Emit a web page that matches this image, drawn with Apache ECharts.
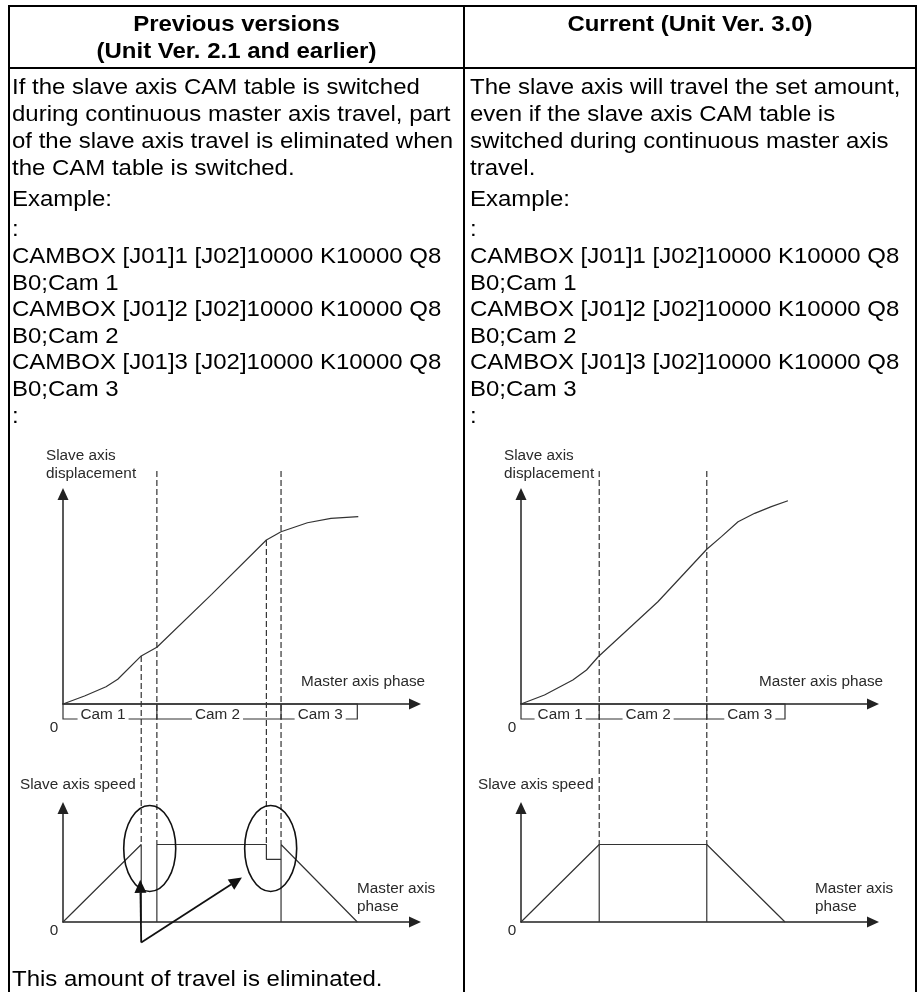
<!DOCTYPE html>
<html>
<head>
<meta charset="utf-8">
<title>CAM table switching</title>
<script src="https://cdn.jsdelivr.net/npm/echarts@6/dist/echarts.min.js"></script>
<style>
    html, body { margin: 0; padding: 0; background: #fff; }
    #main { width: 924px; height: 992px; }
</style>
</head>
<body>
<div id="main"></div>
<script>
// master axis phase (x, 0-360) and slave axis values (y, 0-100)
var leftDispX = [0, 22, 44, 56, 80, 96, 152, 208, 223, 250, 274, 302];
var leftDispY = [0, 3.8, 8.2, 11.8, 22.9, 27, 52.2, 78.1, 82, 86.3, 88.4, 89.2];
var rightDispX = [0, 24, 53, 67, 79, 140, 190, 205, 222, 239, 256, 273];
var rightDispY = [0, 4.3, 11.4, 16.2, 22.5, 48.7, 73.7, 79.7, 86.8, 90.8, 94, 96.8];

// speed profiles, one path per piece
var leftSpeedX = [[0, 80, 80], [96, 96, 208, 208, 223, 223, 301], [223, 223]];
var leftSpeedY = [[0, 68, 0], [0, 68, 68, 55, 55, 68, 0], [0, 55]];
var rightSpeedX = [[0, 80, 190, 270], [80, 80], [190, 190]];
var rightSpeedY = [[0, 68, 68, 0], [0, 68], [0, 68]];

// cam tables
var camNames = ['Cam 1', 'Cam 2', 'Cam 3'];
var leftCamEnds = [96, 223, 301];
var rightCamEnds = [80, 190, 270];
var leftCamLabelX = [41, 158, 263];
var rightCamLabelX = [40, 130, 234];

// dashed guide lines: x, top value in the displacement chart, bottom value in the speed chart
var leftGuideX = [80, 96, 208, 223];
var leftGuideTop = [22.9, 111, 78.1, 111];
var rightGuideX = [80, 190];
var rightGuideTop = [111, 111];
var guideBottom = 68;

// "eliminated" marks on the left speed chart
var ellipseX = [88.7, 212.4];
var ellipseY = [64.5, 64.5];
var ellipseR = [26.6, 37.7];
var arrowFrom = [80, -18];
var arrowTo = [[79, 37], [183, 39]];

var leftText = [
    'If the slave axis CAM table is switched',
    'during continuous master axis travel, part',
    'of the slave axis travel is eliminated when',
    'the CAM table is switched.'
];
var rightText = [
    'The slave axis will travel the set amount,',
    'even if the slave axis CAM table is',
    'switched during continuous master axis',
    'travel.'
];
var codeLines = [
    ':',
    'CAMBOX [J01]1 [J02]10000 K10000 Q8',
    'B0;Cam 1',
    'CAMBOX [J01]2 [J02]10000 K10000 Q8',
    'B0;Cam 2',
    'CAMBOX [J01]3 [J02]10000 K10000 Q8',
    'B0;Cam 3',
    ':'
];

var FONT = '"Liberation Sans", Arial, Helvetica, sans-serif';
var INK = '#2a2a2a';
var WIDE = 1.09; // the printed text is a little wider than Liberation Sans

var chart = echarts.init(document.getElementById('main'));

function axis(g, max) {
    return {
        type: 'value', gridIndex: g, min: 0, max: max,
        axisLine: {show: true, onZero: true, symbol: ['none', 'triangle'], symbolSize: [11, 12],
            lineStyle: {color: '#222', width: 1.5}},
        axisTick: {show: false},
        axisLabel: {show: false},
        splitLine: {show: false}
    };
}

function line(g, xs, ys) {
    return {
        type: 'line', xAxisIndex: g, yAxisIndex: g,
        data: xs.map(function (x, i) { return [x, ys[i]]; }),
        symbol: 'none', silent: true, clip: false,
        lineStyle: {color: '#333', width: 1.2}
    };
}

var series = [line(0, leftDispX, leftDispY), line(2, rightDispX, rightDispY)];
leftSpeedX.forEach(function (xs, i) { series.push(line(1, xs, leftSpeedY[i])); });
rightSpeedX.forEach(function (xs, i) { series.push(line(3, xs, rightSpeedY[i])); });

var option = {
    animation: false,
    grid: [
        {left: 63, top: 494, width: 352, height: 210},
        {left: 63, top: 808, width: 352, height: 114},
        {left: 521, top: 494, width: 352, height: 210},
        {left: 521, top: 808, width: 352, height: 114}
    ],
    xAxis: [axis(0, 360), axis(1, 360), axis(2, 360), axis(3, 360)],
    yAxis: [axis(0, 100), axis(1, 100), axis(2, 100), axis(3, 100)],
    series: series
};
chart.setOption(option);

function px(g, x, y) {
    return chart.convertToPixel({gridIndex: g}, [x, y]);
}

function text(x, y, str, size, extra) {
    var st = {text: str, fontSize: size, fontFamily: FONT, fill: '#000',
        align: 'left', verticalAlign: 'top', lineHeight: size + 3};
    for (var k in extra) st[k] = extra[k];
    return {type: 'text', x: x, y: y, z: 20, style: st};
}

function bigText(x, y, str, extra) {
    var t = text(x, y, str, 22, extra);
    t.scaleX = WIDE;
    return t;
}

function seg(a, b, style) {
    return {type: 'line', z: 10, shape: {x1: a[0], y1: a[1], x2: b[0], y2: b[1]}, style: style};
}

var els = [];

// table frame
els.push({type: 'rect', z: 30, shape: {x: 9, y: 6, width: 907, height: 1000},
    style: {fill: 'none', stroke: '#000', lineWidth: 2}});
els.push(seg([9, 68], [916, 68], {stroke: '#000', lineWidth: 2}));
els.push(seg([464, 6], [464, 1000], {stroke: '#000', lineWidth: 2}));

// header
els.push(bigText(236.5, 11.5, 'Previous versions\n(Unit Ver. 2.1 and earlier)',
    {fontWeight: 'bold', align: 'center', lineHeight: 27}));
els.push(bigText(690, 11.5, 'Current (Unit Ver. 3.0)',
    {fontWeight: 'bold', align: 'center', lineHeight: 27}));

// body text of both columns
[[12, leftText], [470, rightText]].forEach(function (c) {
    els.push(bigText(c[0], 74.5, c[1].join('\n'), {lineHeight: 27}));
    els.push(bigText(c[0], 186, 'Example:', {lineHeight: 27}));
    els.push(bigText(c[0], 217, codeLines.join('\n'), {lineHeight: 26.6}));
});
els.push(bigText(12, 966, 'This amount of travel is eliminated.', {lineHeight: 27}));

// labels, cam bands and guides for each column
function column(gTop, gSpeed, camEnds, camLabelX, guideX, guideTop) {
    var o = px(gTop, 0, 0);
    var s = px(gSpeed, 0, 0);
    var lbl = {fill: INK};

    els.push(text(o[0] - 17, o[1] - 257, 'Slave axis\ndisplacement', 15.3, {lineHeight: 18, fill: INK}));
    els.push(text(o[0] + 238, o[1] - 31, 'Master axis phase', 15.3, lbl));
    els.push(text(o[0] - 9, o[1] + 24, '0', 15.3, {align: 'center', verticalAlign: 'middle', fill: INK}));

    els.push(text(s[0] - 43, s[1] - 146, 'Slave axis speed', 15.3, lbl));
    els.push(text(s[0] + 294, s[1] - 42, 'Master axis\nphase', 15.3, {lineHeight: 18, fill: INK}));
    els.push(text(s[0] - 9, s[1] + 9, '0', 15.3, {align: 'center', verticalAlign: 'middle', fill: INK}));

    // cam band under the master axis
    var bandEnd = px(gTop, camEnds[2], 0);
    els.push({type: 'rect', z: 10, shape: {x: o[0], y: o[1], width: bandEnd[0] - o[0], height: 15},
        style: {fill: 'none', stroke: '#333', lineWidth: 1.2}});
    camEnds.slice(0, 2).forEach(function (c) {
        var p = px(gTop, c, 0);
        els.push(seg([p[0], p[1]], [p[0], p[1] + 15], {stroke: '#333', lineWidth: 1.2}));
    });
    camNames.forEach(function (n, i) {
        var p = px(gTop, camLabelX[i], 0);
        els.push(text(p[0], p[1] + 10.5, n, 15.3, {align: 'center', verticalAlign: 'middle',
            lineHeight: 13, backgroundColor: '#fff', padding: [0, 3, 0, 3], fill: INK}));
    });

    // dashed guides from the displacement chart down to the speed chart
    guideX.forEach(function (x, i) {
        var a = px(gTop, x, guideTop[i]);
        var b = px(gSpeed, x, guideBottom);
        els.push(seg(a, b, {stroke: '#333', lineWidth: 1.2, lineDash: [6, 3]}));
    });
}

column(0, 1, leftCamEnds, leftCamLabelX, leftGuideX, leftGuideTop);
column(2, 3, rightCamEnds, rightCamLabelX, rightGuideX, rightGuideTop);

// ellipses around the eliminated travel
ellipseX.forEach(function (x, i) {
    var c = px(1, x, ellipseY[i]);
    var e = px(1, x + ellipseR[0], ellipseY[i] + ellipseR[1]);
    els.push({type: 'ellipse', z: 12, shape: {cx: c[0], cy: c[1], rx: e[0] - c[0], ry: c[1] - e[1]},
        style: {fill: 'none', stroke: '#111', lineWidth: 1.6}});
});

// arrows pointing at them
arrowTo.forEach(function (t) {
    var p0 = px(1, arrowFrom[0], arrowFrom[1]);
    var p1 = px(1, t[0], t[1]);
    var dx = p1[0] - p0[0], dy = p1[1] - p0[1];
    var len = Math.sqrt(dx * dx + dy * dy);
    var ux = dx / len, uy = dy / len;
    var bx = p1[0] - ux * 13, by = p1[1] - uy * 13;
    els.push(seg(p0, [bx, by], {stroke: '#111', lineWidth: 1.8}));
    els.push({type: 'polygon', z: 12, shape: {points: [
        [p1[0], p1[1]], [bx - uy * 6, by + ux * 6], [bx + uy * 6, by - ux * 6]]},
        style: {fill: '#111'}});
});

chart.setOption({graphic: {elements: els}});
</script>
</body>
</html>
